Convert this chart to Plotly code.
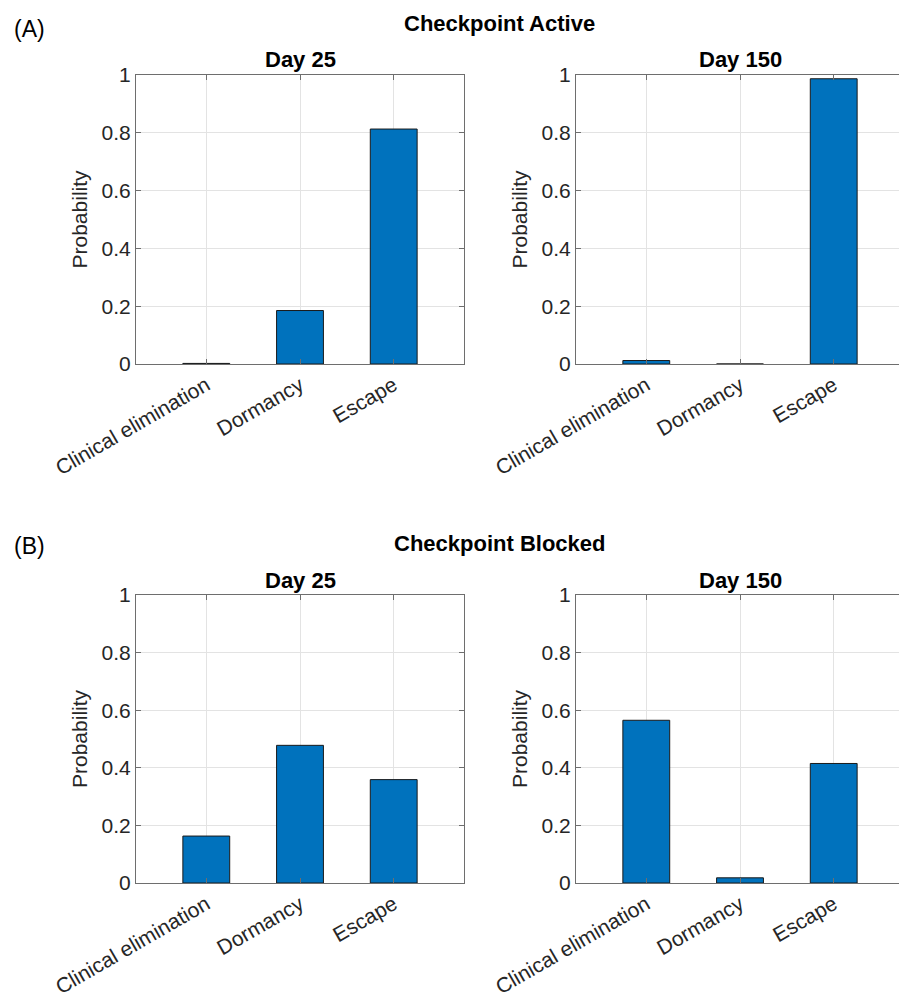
import plotly.graph_objects as go

categories = ["Clinical elimination", "Dormancy", "Escape"]
active_day25 = [0.002, 0.185, 0.813]
active_day150 = [0.012, 0.0, 0.987]
blocked_day25 = [0.163, 0.478, 0.359]
blocked_day150 = [0.565, 0.018, 0.415]
panel_titles = ["Day 25", "Day 150", "Day 25", "Day 150"]
y_ticks = [0, 0.2, 0.4, 0.6, 0.8, 1]
y_tick_text = ["0", "0.2", "0.4", "0.6", "0.8", "1"]

W, H = 899, 1004
FONT = "Liberation Sans, Arial, Helvetica, sans-serif"
TXT = "#262626"
AX = "#6e6e6e"
BAR = "#0072BD"

def px_x(p):
    return p / W

def px_y(p):
    return 1 - p / H

# pixel boxes (left, right, top, bottom)
boxes = [
    (136, 464, 75, 364),
    (576, 899, 75, 364),
    (136, 464, 595, 883),
    (576, 899, 595, 883),
]
unit = 328 / 3.5
series = [active_day25, active_day150, blocked_day25, blocked_day150]

fig = go.Figure()
layout = dict(
    width=W, height=H, margin=dict(l=0, r=0, t=0, b=0, pad=0, autoexpand=False),
    paper_bgcolor="white", plot_bgcolor="white",
    showlegend=False, font=dict(family=FONT, color=TXT, size=20),
)
annotations = []
for i, (vals, (l, r, t, b)) in enumerate(zip(series, boxes)):
    n = i + 1
    xa = "x" if n == 1 else f"x{n}"
    ya = "y" if n == 1 else f"y{n}"
    fig.add_trace(go.Bar(
        x=categories, y=vals, xaxis=xa, yaxis=ya, width=0.5,
        marker=dict(color=BAR, line=dict(color="#1a1a1a", width=1)),
    ))
    right_cut = (r == 899)
    xmax = -0.75 + (r - l) / unit
    layout["xaxis" if n == 1 else f"xaxis{n}"] = dict(
        domain=[px_x(l), px_x(r)], anchor=ya, range=[-0.75, xmax],
        showline=True, linecolor=AX, linewidth=1, mirror="ticks",
        ticks="inside", ticklen=5, tickcolor=AX, tickangle=-30,
        showgrid=True, gridcolor="#e3e3e3", gridwidth=1,
        tickfont=dict(size=21, color=TXT, family=FONT),
        automargin=False, fixedrange=True,
    )
    layout["yaxis" if n == 1 else f"yaxis{n}"] = dict(
        domain=[px_y(b), px_y(t)], anchor=xa, range=[0, 1],
        tickvals=y_ticks, ticktext=y_tick_text,
        showline=True, linecolor=AX, linewidth=1,
        mirror=False if right_cut else "ticks",
        ticks="inside", ticklen=5, tickcolor=AX,
        showgrid=True, gridcolor="#e3e3e3", gridwidth=1, zeroline=False,
        tickfont=dict(size=21, color=TXT, family=FONT),
        automargin=False, fixedrange=True,
    )
    # subplot title
    annotations.append(dict(
        text=f"<b>{panel_titles[i]}</b>", x=px_x(l + 1.75 * unit),
        y=px_y(t - 15), xref="paper", yref="paper", showarrow=False,
        xanchor="center", yanchor="middle",
        font=dict(size=22, color="black", family=FONT),
    ))
    # y label
    annotations.append(dict(
        text="Probability", x=px_x(l - 57), y=px_y((t + b) / 2),
        xref="paper", yref="paper", showarrow=False, textangle=-90,
        xanchor="center", yanchor="middle",
        font=dict(size=21, color=TXT, family=FONT),
    ))

for label, title, ypx_lab, ypx_title in [("(A)", "Checkpoint Active", 29, 24),
                                         ("(B)", "Checkpoint Blocked", 546, 543)]:
    annotations.append(dict(
        text=label, x=px_x(12), y=px_y(ypx_lab), xref="paper", yref="paper",
        showarrow=False, xanchor="left", yanchor="middle",
        font=dict(size=23, color="black", family=FONT),
    ))
    annotations.append(dict(
        text=f"<b>{title}</b>", x=px_x(500), y=px_y(ypx_title), xref="paper",
        yref="paper", showarrow=False, xanchor="center", yanchor="middle",
        font=dict(size=22, color="black", family=FONT),
    ))

layout["annotations"] = annotations
fig.update_layout(**layout)
fig.write_html("out.html", config={"displayModeBar": False})
